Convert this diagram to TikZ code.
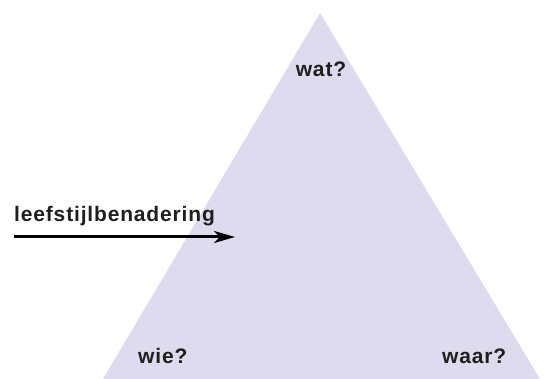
\documentclass[tikz,border=0pt]{standalone}
\usepackage{fontspec}
\newfontfamily\lblfont{Liberation Sans}[LetterSpace=4]
\usetikzlibrary{arrows.meta}
\definecolor{lav}{RGB}{221,219,237}
\tikzset{lbl/.style={font=\lblfont\bfseries\fontsize{21}{25}\selectfont, inner sep=0pt, text=black!88}}
\begin{document}
\begin{tikzpicture}[x=1pt,y=-1pt]
\useasboundingbox (0,0) rectangle (549,379);
\fill[lav] (320,13) -- (540,379) -- (103,379) -- cycle;
\node[lbl, anchor=base] (wat) at (321,77) {wat?};
\node[lbl, anchor=base west] (wie) at (138,363) {wie?};
\node[lbl, anchor=base west] (waar) at (442,363) {waar?};
\node[lbl, anchor=base west] (leef) at (14,222) {leefstijlbenadering};
\coordinate (a) at (14,237);
\coordinate (b) at (235,237);
\draw[line width=3pt, -{Stealth[length=21pt,width=12pt,inset=6pt]}] (a) -- (b);
\end{tikzpicture}
\end{document}
